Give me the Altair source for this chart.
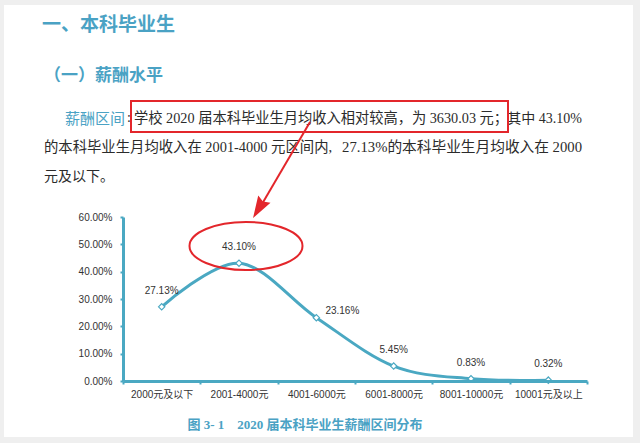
import altair as alt
import pandas as pd

# ---- chart data ----
categories = ["2000元及以下", "2001-4000元", "4001-6000元", "6001-8000元", "8001-10000元", "10001元及以上"]
shares = [0.2713, 0.4310, 0.2316, 0.0545, 0.0083, 0.0032]
share_labels = ["27.13%", "43.10%", "23.16%", "5.45%", "0.83%", "0.32%"]
y_ticks = [0, 0.1, 0.2, 0.3, 0.4, 0.5, 0.6]

# ---- document text ----
heading1 = "一、本科毕业生"
heading2 = "（一）薪酬水平"
para_lead = "薪酬区间"
colon = ":"
line1_a = "学校 2020 届本科毕业生月均收入相对较高，为 3630.03 元；"
line1_b = "其中 43.10%"
line2_a = "的本科毕业生月均收入在 2001-4000 元区间内,"
line2_b = "27.13%的本科毕业生月均收入在 2000"
line3 = "元及以下。"
caption = "图 3- 1　2020 届本科毕业生薪酬区间分布"

df = pd.DataFrame({"cat": categories, "share": shares, "label": share_labels})
one = pd.DataFrame({"_": [0]})

TEAL = "#4AA8C2"
HEAD = "#4AA2C4"
RED = "#E3262B"
TXT = "#2b2b2b"
SANS = "Liberation Sans, Noto Sans CJK SC"
SERIF = "Liberation Serif, Noto Sans CJK SC"
CJK = "Noto Sans CJK SC"

# plot area placement (padding)
PL, PT, PW, PH = 123, 217, 464, 164

x_enc = alt.X(
    "cat:N", sort=categories, bandPosition=0.5,
    scale=alt.Scale(type="band", paddingInner=0, paddingOuter=0),
    axis=alt.Axis(title=None, labelAngle=0, tickBand="extent", domainColor=TEAL, domainWidth=3,
                  tickColor=TEAL, tickWidth=2, tickSize=3, labelPadding=5, labelFont=SANS,
                  labelFontSize=10, labelColor="#333333", zindex=1),
)
y_enc = alt.Y(
    "share:Q", scale=alt.Scale(domain=[0, 0.6], nice=False),
    axis=alt.Axis(title=None, values=y_ticks, format=".2%", grid=False, domainColor=TEAL, domainWidth=3,
                  tickColor=TEAL, tickWidth=2, tickSize=3, labelPadding=8, labelFont=SANS,
                  labelFontSize=10, labelColor="#333333", zindex=1),
)

base = alt.Chart(df).encode(x=x_enc, y=y_enc)

line = base.mark_line(color=TEAL, strokeWidth=3, interpolate="cardinal")
pts = base.mark_point(shape="diamond", filled=True, fill="white", stroke=TEAL, strokeWidth=1.2,
                      size=40, opacity=1)
lab = base.transform_filter(alt.datum.cat != "4001-6000元").mark_text(
    dy=-16, fontSize=10, font=SANS, color="#333333").encode(text="label:N")
lab2 = base.transform_filter(alt.datum.cat == "4001-6000元").mark_text(
    dx=26, dy=-7, fontSize=10, font=SANS, color="#333333").encode(text="label:N")


def v(px):
    return alt.value(px - PL)


def vy(py):
    return alt.value(py - PT)


page = alt.Chart(one).mark_rect(color="white").encode(x=v(4), x2=v(633), y=vy(5), y2=vy(437))


def txt(s, x, y, size, color, font, weight="normal", align="left"):
    return alt.Chart(one).mark_text(text=s, align=align, baseline="middle", fontSize=size, color=color,
                                    font=font, fontWeight=weight).encode(x=v(x), y=vy(y))


texts = [
    txt(heading1, 42, 25, 19, HEAD, CJK, "bold"),
    txt(heading2, 44, 76, 17, HEAD, CJK, "bold"),
    txt(para_lead, 65, 119, 15, HEAD, CJK),
    txt(colon, 127, 118, 14, TXT, SERIF),
    txt(line1_a, 134, 119, 14.25, TXT, SERIF),
    txt(line1_b, 582, 119, 14, TXT, SERIF, align="right"),
    txt(line2_a, 44, 148, 14.35, TXT, SERIF),
    txt(line2_b, 582, 148, 14.7, TXT, SERIF, align="right"),
    txt(line3, 44, 177, 14, TXT, SERIF),
    txt(caption, 305, 425, 13, HEAD, SERIF, "bold", align="center"),
]

box = alt.Chart(one).mark_rect(fillOpacity=0, stroke=RED, strokeWidth=2).encode(
    x=v(131), x2=v(508), y=vy(101), y2=vy(132))
arrow_line = alt.Chart(one).mark_rule(color=RED, strokeWidth=2).encode(
    x=v(310), y=vy(122), x2=v(262), y2=vy(204))
arrow_head = alt.Chart(one).mark_point(
    shape="M0,1L-0.65,-1L0,-0.75L0.65,-1Z", filled=True, color=RED, size=484, angle=31, opacity=1
).encode(x=v(258.7), y=vy(208.6))
ellipse = alt.Chart(one).mark_point(
    shape="M-1,0A1,0.425,0,1,1,1,0A1,0.425,0,1,1,-1,0Z", filled=False, stroke=RED, strokeWidth=2,
    size=12769, opacity=1
).encode(x=v(246), y=vy(246))

chart = alt.layer(
    page, *texts, line, pts, lab, lab2, box, arrow_line, arrow_head, ellipse
).properties(
    width=PW, height=PH,
    padding={"left": PL, "top": PT, "right": 640 - PL - PW, "bottom": 443 - PT - PH},
    autosize=alt.AutoSizeParams(type="none"),
    background="#efefef",
).configure_view(stroke="transparent")

chart.save("out.html", embed_options={"renderer": "svg", "actions": False})
